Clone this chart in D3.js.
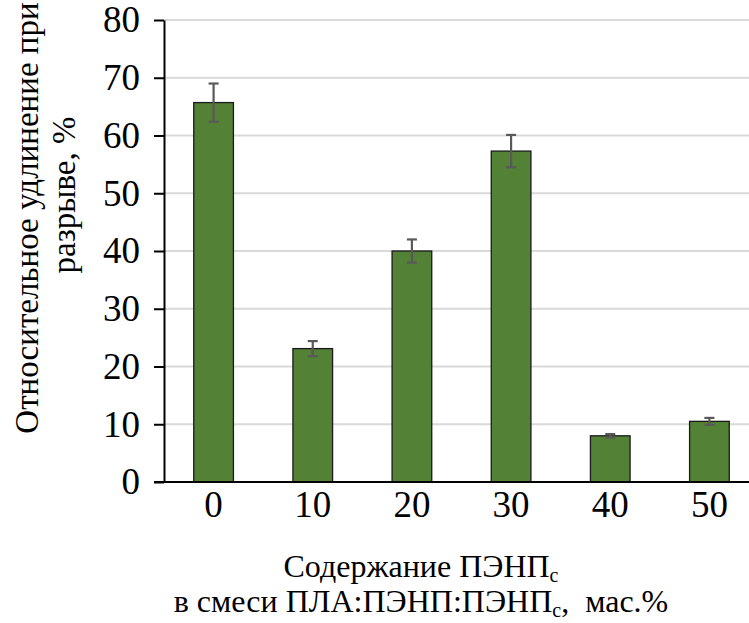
<!DOCTYPE html>
<html><head><meta charset="utf-8">
<script src="https://cdn.jsdelivr.net/npm/d3@7"></script>
<style>body{margin:0;background:#fff;} svg{display:block;}</style>
</head><body>
<svg id="c" width="749" height="623"></svg>
<script>
const categories = ["0","10","20","30","40","50"];
const values = [65.7, 23.1, 40.0, 57.3, 8.0, 10.5];
const errors = [3.3, 1.3, 2.0, 2.8, 0.3, 0.6];
const yTicks = [0,10,20,30,40,50,60,70,80];
const yTitle = ["Относительное удлинение при", "разрыве, %"];

(function () {
const svg = d3.select("#c");
const FONT = '"Liberation Serif"';
const pLeft = 164, pRight = 759, pTop = 20, pBottom = 482;

const x = d3.scaleBand().domain(categories).range([pLeft, pRight]).paddingInner(0.6).paddingOuter(0.3);
const y = d3.scaleLinear().domain([0, 80]).range([pBottom, pTop]);

svg.append("g").selectAll("line").data(yTicks.filter(d => d > 0)).join("line")
  .attr("x1", pLeft).attr("x2", pRight).attr("y1", d => y(d)).attr("y2", d => y(d))
  .attr("stroke", "#d9d9d9").attr("stroke-width", 2);

svg.append("g").selectAll("rect").data(values).join("rect")
  .attr("x", (d, i) => x(categories[i]))
  .attr("width", x.bandwidth())
  .attr("y", d => y(d))
  .attr("height", d => y(0) - y(d))
  .attr("fill", "#538135").attr("stroke", "#1a1a1a").attr("stroke-width", 1.3);

const eg = svg.append("g").attr("stroke", "#595959").attr("stroke-width", 2.2);
values.forEach((v, i) => {
  const cx = x(categories[i]) + x.bandwidth() / 2;
  const e = errors[i];
  eg.append("line").attr("x1", cx).attr("x2", cx).attr("y1", y(v + e)).attr("y2", y(v - e));
  eg.append("line").attr("x1", cx - 5).attr("x2", cx + 5).attr("y1", y(v + e)).attr("y2", y(v + e));
  eg.append("line").attr("x1", cx - 5).attr("x2", cx + 5).attr("y1", y(v - e)).attr("y2", y(v - e));
});

const ya = svg.append("g").attr("transform", `translate(${pLeft},0)`)
  .call(d3.axisLeft(y).tickValues(yTicks).tickSize(10).tickPadding(14).tickSizeOuter(0));
ya.select(".domain").attr("stroke", "#000").attr("stroke-width", 2);
ya.selectAll(".tick line").attr("stroke", "#000").attr("stroke-width", 2);
ya.selectAll("text").style("font-family", FONT).style("font-size", "37px").attr("fill", "#000");

const xa = svg.append("g").attr("transform", `translate(0,${pBottom})`)
  .call(d3.axisBottom(x).tickSize(0).tickPadding(9).tickSizeOuter(0));
xa.select(".domain").remove();
xa.selectAll("text").style("font-family", FONT).style("font-size", "37px").attr("fill", "#000");
svg.append("line").attr("x1", pLeft - 10).attr("x2", pRight).attr("y1", pBottom).attr("y2", pBottom)
  .attr("stroke", "#000").attr("stroke-width", 2);

svg.append("text").attr("transform", "translate(38,218) rotate(-90)")
  .attr("text-anchor", "middle").style("font-family", FONT).style("font-size", "33px").text(yTitle[0]);
svg.append("text").attr("transform", "translate(75,195) rotate(-90)")
  .attr("text-anchor", "middle").style("font-family", FONT).style("font-size", "33px").text(yTitle[1]);

const t1 = svg.append("text").attr("x", 421).attr("y", 577).attr("text-anchor", "middle")
  .style("font-family", FONT).style("font-size", "32px");
t1.append("tspan").text("Содержание ПЭНП");
t1.append("tspan").style("font-size", "20px").attr("dy", 5).text("с");
const t2 = svg.append("text").attr("x", 421).attr("y", 612).attr("text-anchor", "middle")
  .style("font-family", FONT).style("font-size", "32px");
t2.append("tspan").text("в смеси ПЛА:ПЭНП:ПЭНП");
t2.append("tspan").style("font-size", "20px").attr("dy", 5).text("с");
t2.append("tspan").attr("dy", -5).text(",\u00a0 мас.%");
})();
</script>
</body></html>
